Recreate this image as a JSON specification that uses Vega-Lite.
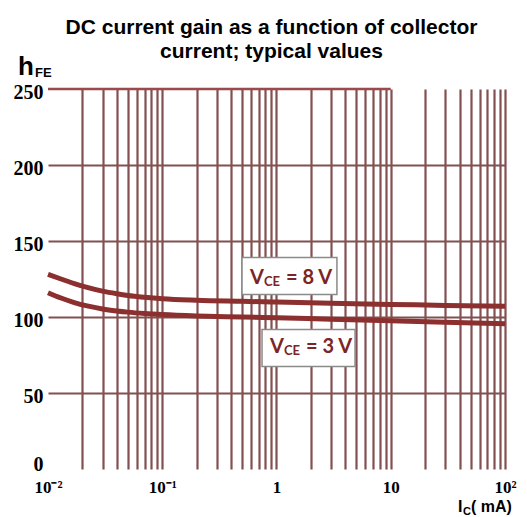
{
  "$schema": "https://vega.github.io/schema/vega-lite/v6.json",
  "width": 457,
  "height": 380,
  "autosize": {"type": "none"},
  "padding": {"left": 48, "right": 22, "top": 89, "bottom": 48},
  "background": "white",
  "title": {
    "text": ["DC current gain as a function of collector", "current; typical values"],
    "font": "Liberation Sans",
    "fontSize": 21,
    "fontWeight": "bold",
    "color": "black",
    "anchor": "middle",
    "lineHeight": 24,
    "offset": 0,
    "dy": 8,
    "dx": -5
  },
  "config": {"view": {"stroke": null}},
  "datasets": {
    "curves": [
      {"series": "8 V", "ic": 0.01, "hfe": 128},
      {"series": "8 V", "ic": 0.013, "hfe": 125},
      {"series": "8 V", "ic": 0.017, "hfe": 122},
      {"series": "8 V", "ic": 0.022, "hfe": 119.5},
      {"series": "8 V", "ic": 0.03, "hfe": 117},
      {"series": "8 V", "ic": 0.04, "hfe": 115.3},
      {"series": "8 V", "ic": 0.05, "hfe": 114.2},
      {"series": "8 V", "ic": 0.07, "hfe": 113},
      {"series": "8 V", "ic": 0.1, "hfe": 112},
      {"series": "8 V", "ic": 0.2, "hfe": 111},
      {"series": "8 V", "ic": 0.5, "hfe": 110.3},
      {"series": "8 V", "ic": 1, "hfe": 109.8},
      {"series": "8 V", "ic": 3, "hfe": 109},
      {"series": "8 V", "ic": 10, "hfe": 108.3},
      {"series": "8 V", "ic": 30, "hfe": 107.6},
      {"series": "8 V", "ic": 100, "hfe": 107},
      {"series": "3 V", "ic": 0.01, "hfe": 116},
      {"series": "3 V", "ic": 0.013, "hfe": 112.5},
      {"series": "3 V", "ic": 0.017, "hfe": 109.5},
      {"series": "3 V", "ic": 0.022, "hfe": 107.3},
      {"series": "3 V", "ic": 0.03, "hfe": 105.3},
      {"series": "3 V", "ic": 0.04, "hfe": 104},
      {"series": "3 V", "ic": 0.05, "hfe": 103.2},
      {"series": "3 V", "ic": 0.07, "hfe": 102.3},
      {"series": "3 V", "ic": 0.1, "hfe": 101.6},
      {"series": "3 V", "ic": 0.2, "hfe": 100.7},
      {"series": "3 V", "ic": 0.5, "hfe": 100},
      {"series": "3 V", "ic": 1, "hfe": 99.5},
      {"series": "3 V", "ic": 3, "hfe": 98.5},
      {"series": "3 V", "ic": 10, "hfe": 97.5},
      {"series": "3 V", "ic": 30, "hfe": 96.5},
      {"series": "3 V", "ic": 100, "hfe": 95.5}
    ],
    "topline": [{"ic1": 0.01, "ic2": 10, "hfe": 250}],
    "boxes": [
      {"series": "8 V", "ic1": 0.499, "ic2": 3.38, "h1": 114.8, "h2": 139.1},
      {"series": "3 V", "ic1": 0.747, "ic2": 4.87, "h1": 67.4, "h2": 91.8}
    ],
    "labels": [
      {"series": "8 V", "ic": 0.586, "hfe": 121.4, "rest": "= 8 V"},
      {"series": "3 V", "ic": 0.877, "hfe": 76.6, "rest": "= 3 V"}
    ],
    "ylab": [{"ic": 0.00546, "hfe": 259.5}],
    "xlab": [{"ic": 38.8, "hfe": -28}]
  },
  "layer": [
    {
      "data": {"name": "curves"},
      "mark": {"type": "line", "color": "#8c2f2f", "strokeWidth": 5, "interpolate": "monotone", "clip": false},
      "encoding": {
        "x": {
          "field": "ic", "type": "quantitative",
          "scale": {"type": "log", "domain": [0.01, 100], "nice": false},
          "axis": {
            "values": [0.01,0.02,0.03,0.04,0.05,0.06,0.07,0.08,0.09,0.1,0.2,0.3,0.4,0.5,0.6,0.7,0.8,0.9,1,2,3,4,5,6,7,8,9,10,20,30,40,50,60,70,80,90,100],
            "grid": true,
            "gridColor": "#825050",
            "gridWidth": 2.2,
            "gridOpacity": {"condition": {"test": "datum.value == 0.01", "value": 0}, "value": 1},
            "domain": false,
            "ticks": false,
            "labelExpr": "datum.value == 0.01 ? '10⁻²' : datum.value == 0.1 ? '10⁻¹' : datum.value == 1 ? '1' : datum.value == 10 ? '10' : datum.value == 100 ? '10²' : ''",
            "labelFont": "Liberation Serif",
            "labelFontWeight": "bold",
            "labelFontSize": 17,
            "labelColor": "black",
            "labelPadding": 10,
            "labelOverlap": false,
            "labelBound": false,
            "labelFlush": false,
            "title": null
          }
        },
        "y": {
          "field": "hfe", "type": "quantitative",
          "scale": {"domain": [0, 250], "nice": false},
          "axis": {
            "values": [0,25,50,75,100,125,150,175,200,225,250],
            "grid": true,
            "gridColor": "#825050",
            "gridWidth": 2.2,
            "gridOpacity": {"condition": {"test": "datum.value == 0 || datum.value == 250", "value": 0}, "value": 1},
            "domain": false,
            "ticks": false,
            "labelExpr": "datum.value % 50 == 0 ? datum.label : ''",
            "labelFont": "Liberation Serif",
            "labelFontWeight": "bold",
            "labelFontSize": 20,
            "labelColor": "black",
            "labelPadding": 5,
            "labelOffset": {"condition": {"test": "datum.value == 0", "value": -5}, "value": 3},
            "labelOverlap": false,
            "labelBound": false,
            "labelFlush": false,
            "title": null
          }
        },
        "detail": {"field": "series"}
      }
    },
    {
      "data": {"name": "topline"},
      "mark": {"type": "rule", "color": "#9a4a4a", "strokeWidth": 2.4},
      "encoding": {
        "x": {"field": "ic1", "type": "quantitative"},
        "x2": {"field": "ic2"},
        "y": {"field": "hfe", "type": "quantitative"}
      }
    },
    {
      "data": {"name": "boxes"},
      "mark": {"type": "rect", "fill": "white", "stroke": "#8a8a8a", "strokeWidth": 1.5},
      "encoding": {
        "x": {"field": "ic1", "type": "quantitative"},
        "x2": {"field": "ic2"},
        "y": {"field": "h1", "type": "quantitative"},
        "y2": {"field": "h2"}
      }
    },
    {
      "data": {"name": "labels"},
      "mark": {"type": "text", "text": "V", "align": "left", "baseline": "alphabetic", "font": "Lato", "fontWeight": "bold", "fontSize": 20, "color": "#7d2424"},
      "encoding": {
        "x": {"field": "ic", "type": "quantitative"},
        "y": {"field": "hfe", "type": "quantitative"}
      }
    },
    {
      "data": {"name": "labels"},
      "mark": {"type": "text", "text": "CE", "align": "left", "baseline": "alphabetic", "dx": 14, "dy": 2, "font": "Lato", "fontWeight": "bold", "fontSize": 13, "color": "#7d2424"},
      "encoding": {
        "x": {"field": "ic", "type": "quantitative"},
        "y": {"field": "hfe", "type": "quantitative"}
      }
    },
    {
      "data": {"name": "labels"},
      "mark": {"type": "text", "align": "left", "baseline": "alphabetic", "dx": 36, "font": "Lato", "fontWeight": "bold", "fontSize": 20, "color": "#7d2424"},
      "encoding": {
        "x": {"field": "ic", "type": "quantitative"},
        "y": {"field": "hfe", "type": "quantitative"},
        "text": {"field": "rest"}
      }
    },
    {
      "data": {"name": "ylab"},
      "mark": {"type": "text", "text": "h", "align": "left", "baseline": "alphabetic", "font": "Liberation Sans", "fontWeight": "bold", "fontSize": 26, "color": "black", "clip": false},
      "encoding": {
        "x": {"field": "ic", "type": "quantitative"},
        "y": {"field": "hfe", "type": "quantitative"}
      }
    },
    {
      "data": {"name": "ylab"},
      "mark": {"type": "text", "text": "FE", "align": "left", "baseline": "alphabetic", "dx": 17, "dy": 2, "font": "Liberation Sans", "fontWeight": "bold", "fontSize": 13, "color": "black", "clip": false},
      "encoding": {
        "x": {"field": "ic", "type": "quantitative"},
        "y": {"field": "hfe", "type": "quantitative"}
      }
    },
    {
      "data": {"name": "xlab"},
      "mark": {"type": "text", "text": "I", "align": "left", "baseline": "alphabetic", "font": "Liberation Sans", "fontWeight": "bold", "fontSize": 16, "color": "black", "clip": false},
      "encoding": {
        "x": {"field": "ic", "type": "quantitative"},
        "y": {"field": "hfe", "type": "quantitative"}
      }
    },
    {
      "data": {"name": "xlab"},
      "mark": {"type": "text", "text": "C", "align": "left", "baseline": "alphabetic", "dx": 5, "dy": 3, "font": "Liberation Sans", "fontWeight": "bold", "fontSize": 11, "color": "black", "clip": false},
      "encoding": {
        "x": {"field": "ic", "type": "quantitative"},
        "y": {"field": "hfe", "type": "quantitative"}
      }
    },
    {
      "data": {"name": "xlab"},
      "mark": {"type": "text", "text": "( mA)", "align": "left", "baseline": "alphabetic", "dx": 13, "font": "Liberation Sans", "fontWeight": "bold", "fontSize": 16, "color": "black", "clip": false},
      "encoding": {
        "x": {"field": "ic", "type": "quantitative"},
        "y": {"field": "hfe", "type": "quantitative"}
      }
    }
  ]
}
